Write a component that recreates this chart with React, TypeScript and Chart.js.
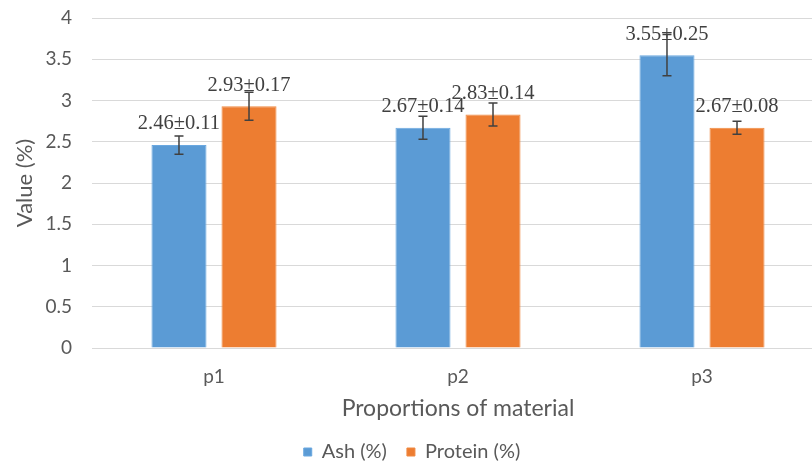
import React, { useEffect, useRef } from "react";
import { Chart, registerables } from "chart.js";

Chart.register(...registerables);

const categories = ["p1", "p2", "p3"];
const ashValues = [2.46, 2.67, 3.55];
const ashErrors = [0.11, 0.14, 0.25];
const proteinValues = [2.93, 2.83, 2.67];
const proteinErrors = [0.17, 0.14, 0.08];
const seriesNames = ["Ash (%)", "Protein (%)"];
const yTicks = [0, 0.5, 1, 1.5, 2, 2.5, 3, 3.5, 4];

const errorsBySeries = [ashErrors, proteinErrors];

const SANS = "Lato";
const GRAY = "#595959";

const errorBarPlugin = {
  id: "errorBars",
  afterDatasetsDraw(chart: any) {
    const ctx = chart.ctx;
    const yScale = chart.scales.y;
    ctx.save();
    chart.data.datasets.forEach((ds: any, i: number) => {
      const meta = chart.getDatasetMeta(i);
      const errs = errorsBySeries[i];
      meta.data.forEach((el: any, j: number) => {
        const v = ds.data[j];
        const e = errs[j];
        const x = el.x;
        const yTop = yScale.getPixelForValue(v + e);
        const yBot = yScale.getPixelForValue(v - e);
        ctx.strokeStyle = "#404040";
        ctx.lineWidth = 1.5;
        ctx.beginPath();
        ctx.moveTo(x, yTop);
        ctx.lineTo(x, yBot);
        ctx.moveTo(x - 4.5, yTop);
        ctx.lineTo(x + 4.5, yTop);
        ctx.moveTo(x - 4.5, yBot);
        ctx.lineTo(x + 4.5, yBot);
        ctx.stroke();
      });
    });
    chart.data.datasets.forEach((ds: any, i: number) => {
      const meta = chart.getDatasetMeta(i);
      const errs = errorsBySeries[i];
      meta.data.forEach((el: any, j: number) => {
        const v = ds.data[j];
        const e = errs[j];
        const yBar = yScale.getPixelForValue(v);
        ctx.fillStyle = "#404040";
        ctx.font = "20.5px 'Liberation Serif'";
        ctx.textAlign = "center";
        ctx.textBaseline = "middle";
        ctx.fillText(`${v.toFixed(2)}±${e.toFixed(2)}`, el.x, yBar - 21);
      });
    });
    ctx.restore();
  },
};

export default function App() {
  const ref = useRef<HTMLCanvasElement | null>(null);
  useEffect(() => {
    if (!ref.current) return;
    const chart = new Chart(ref.current, {
      type: "bar",
      data: {
        labels: categories,
        datasets: [
          {
            label: seriesNames[0],
            data: ashValues,
            backgroundColor: "#5B9BD5",
            borderColor: "#6AA8E0",
            borderWidth: 1,
            categoryPercentage: 0.574,
            barPercentage: 0.786,
          },
          {
            label: seriesNames[1],
            data: proteinValues,
            backgroundColor: "#ED7D31",
            borderColor: "#F08A42",
            borderWidth: 1,
            categoryPercentage: 0.574,
            barPercentage: 0.786,
          },
        ],
      },
      options: {
        animation: false,
        responsive: false,
        maintainAspectRatio: false,
        layout: { padding: { top: 18, right: 8, left: 0, bottom: 0 } },
        plugins: {
          legend: {
            position: "bottom",
            labels: {
              boxWidth: 8,
              boxHeight: 8,
              padding: 20,
              color: GRAY,
              font: { family: SANS, size: 20 },
            },
          },
          tooltip: { enabled: false },
        },
        scales: {
          x: {
            grid: { display: false, drawTicks: false },
            border: { display: true, color: "#d9d9d9" },
            ticks: {
              color: GRAY,
              font: { family: SANS, size: 19 },
              padding: 17,
            },
            title: {
              display: true,
              text: "Proportions of material",
              color: GRAY,
              font: { family: SANS, size: 23 },
              padding: { top: 2, bottom: 0 },
            },
            afterFit: (s: any) => {
              s.height = 74;
            },
          },
          y: {
            min: 0,
            max: 4,
            afterBuildTicks: (s: any) => {
              s.ticks = yTicks.map((v) => ({ value: v }));
            },
            grid: { color: "#d9d9d9", drawTicks: false },
            border: { display: false },
            ticks: {
              color: GRAY,
              font: { family: SANS, size: 19 },
              padding: 20,
              callback: (v: any) => String(v),
            },
            title: {
              display: true,
              text: "Value (%)",
              color: GRAY,
              font: { family: SANS, size: 22 },
              padding: { top: 12, bottom: 0 },
            },
            afterFit: (s: any) => {
              s.width = 92;
              s.paddingTop = 0;
              s.paddingBottom = 0;
            },
          },
        },
      },
      plugins: [errorBarPlugin],
    });
    return () => chart.destroy();
  }, []);
  return (
    <div
      style={{
        position: "fixed",
        left: 0,
        top: 0,
        width: 812,
        height: 464,
        overflow: "hidden",
        background: "#fff",
      }}
    >
      <canvas ref={ref} width={832} height={472} style={{ display: "block" }} />
    </div>
  );
}
